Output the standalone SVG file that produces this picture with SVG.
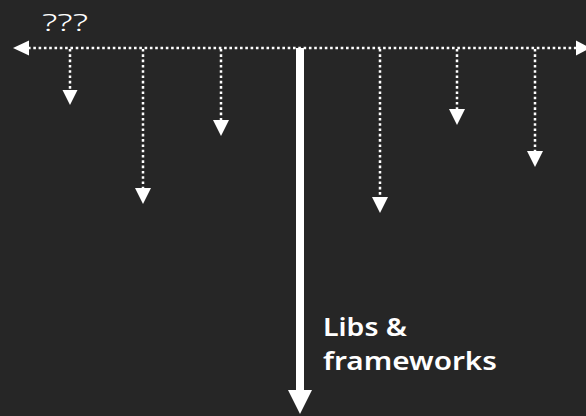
<svg xmlns="http://www.w3.org/2000/svg" width="586" height="416" viewBox="0 0 586 416">
<defs>
<style>
.dot{stroke:#ffffff;stroke-width:2.5;stroke-dasharray:2.6 2.7;fill:none}
.head{fill:#ffffff}
.t{fill:#ffffff;font-family:"Noto Sans","Open Sans",sans-serif}
</style>
</defs>
<rect width="586" height="416" fill="#262626"/>
<g id="connectors">
<line class="dot" x1="28" y1="48" x2="577" y2="48"/>
<polygon class="head" points="13,48 29,40.5 29,55.5"/>
<polygon class="head" points="590,48 576,40.5 576,55.5"/>
<line class="dot" x1="70" y1="49" x2="70" y2="91"/>
<polygon class="head" points="62.5,90 77.5,90 70,105"/>
<line class="dot" x1="143" y1="49" x2="143" y2="189"/>
<polygon class="head" points="135,188 151,188 143,204"/>
<line class="dot" x1="221" y1="49" x2="221" y2="121"/>
<polygon class="head" points="213,120 229,120 221,136"/>
<line class="dot" x1="380" y1="49" x2="380" y2="198"/>
<polygon class="head" points="372,197 388,197 380,213"/>
<line class="dot" x1="457" y1="49" x2="457" y2="110"/>
<polygon class="head" points="449,109 465,109 457,125"/>
<line class="dot" x1="535" y1="49" x2="535" y2="152"/>
<polygon class="head" points="527,151 543,151 535,167"/>
<rect x="296" y="48" width="8" height="344" fill="#ffffff"/>
<polygon class="head" points="288,390 312,390 300,414"/>
</g>
<g id="label-top">
<text class="t" x="42" y="31" font-size="24" font-weight="300" textLength="46" lengthAdjust="spacingAndGlyphs">???</text>
</g>
<g id="label-libs">
<text class="t" x="323" y="336" font-size="25" font-weight="600" textLength="84" lengthAdjust="spacingAndGlyphs">Libs &amp;</text>
<text class="t" x="323" y="370" font-size="25" font-weight="600" textLength="174" lengthAdjust="spacingAndGlyphs">frameworks</text>
</g>
</svg>
